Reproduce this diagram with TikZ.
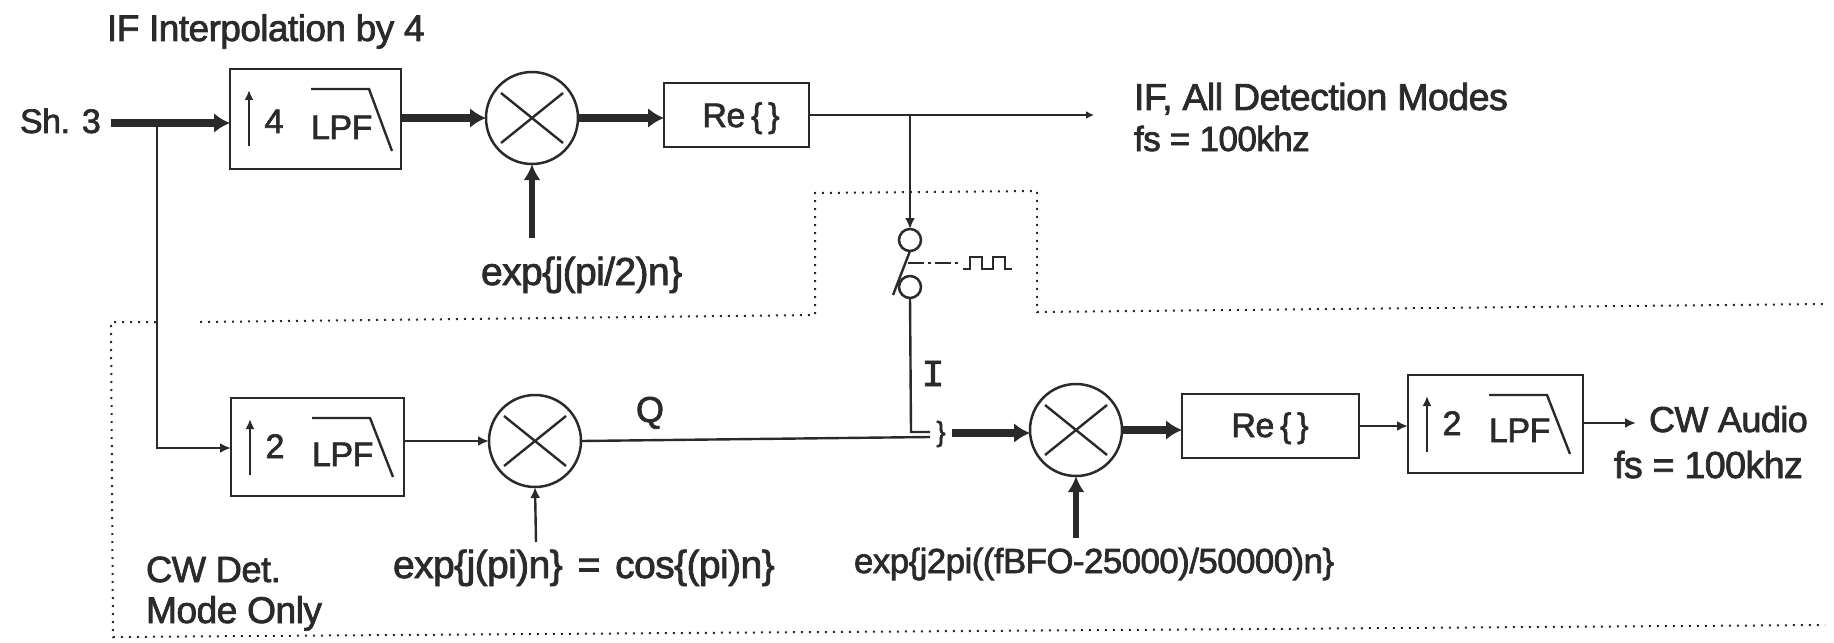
\documentclass[tikz,border=0pt]{standalone}
\usepackage{fontspec}
\usetikzlibrary{arrows.meta,calc}
\newfontfamily\dfont[LetterSpace=-1.5,FakeBold=2]{Liberation Sans}
\newfontfamily\mfont[FakeBold=2]{Liberation Mono}
\definecolor{ink}{HTML}{2A2A2A}
\tikzset{
  every node/.style={inner sep=0pt,outer sep=0pt,text=ink},
  lab/.style={font=\dfont\fontsize{#1}{20}\selectfont,anchor=base west},
  lab/.default=17,
  blockbox/.style={draw=ink,line width=1.25pt,rectangle,anchor=north west},
  mixer/.style={draw=ink,line width=1.25pt,circle,minimum size=46pt},
  swc/.style={draw=ink,line width=1.25pt,circle,minimum size=11pt},
  thin arrow/.style={draw=ink,line width=1.2pt,-{Latex[length=5.5pt,width=5pt]}},
  thick arrow/.style={draw=ink,line width=3.6pt,-{Latex[length=8pt,width=10pt]}},
  mid arrow/.style={draw=ink,line width=2.6pt,-{Latex[length=8pt,width=8.5pt]}},
  wire/.style={draw=ink,line width=1.2pt},
  boundary/.style={draw=ink,line width=1pt,dash pattern=on 1pt off 3pt},
}
\newcommand\lpfinner[5]{% box, digit, digit baseline, lpf baseline, curve end y (offsets from box corner)
  \begin{scope}[shift={(#1.north west)}]
    \draw[draw=ink,line width=1.2pt,-{Latex[length=5pt,width=4.5pt]}] (19,77) -- (19,21);
    \node[lab,anchor=base] (#1-digit) at (44,#3) {#2};
    \node[lab] (#1-lpf) at (81,#4) {LPF};
    \draw[wire] (81,20) -- (139,20) -- (162,#5);
  \end{scope}
}
\newcommand\mixcross[1]{%
  \begin{scope}[shift={(#1.center)}]
    \draw[wire] (-31,-25) -- (31,25) (-31,25) -- (31,-25);
  \end{scope}
}
\begin{document}
\begin{tikzpicture}[x=.5pt,y=-.5pt]
\useasboundingbox (0,0) rectangle (1834,642);

% blocks
\node[blockbox,minimum width=85.5pt,minimum height=50pt] (box1) at (230,69) {};
\node[mixer] (c1) at (532,118) {};
\node[blockbox,minimum width=72.5pt,minimum height=32pt] (re1) at (664,83) {};
\node[lab,anchor=base] (re1t) at (741,127) {\spaceskip=.17em Re \{ \}};

\node[blockbox,minimum width=86.5pt,minimum height=49pt] (box2) at (231,398) {};
\node[mixer] (c2) at (535,441) {};
\node[mixer] (c3) at (1076,430) {};
\node[blockbox,minimum width=88.5pt,minimum height=32pt] (re2) at (1182,394) {};
\node[lab,anchor=base] (re2t) at (1270,437) {\spaceskip=.17em Re \{ \}};
\node[blockbox,minimum width=87.5pt,minimum height=49pt] (box3) at (1408,375) {};

\lpfinner{box1}{4}{64}{70}{82}
\lpfinner{box2}{2}{60}{68}{79}
\lpfinner{box3}{2}{60}{67}{79}
\mixcross{c1}\mixcross{c2}\mixcross{c3}

% labels
\node[lab=18.5] (title) at (107,41) {IF Interpolation by 4};
\node[lab=17] (sh) at (20,133) {Sh. 3};
\node[lab=18.8] (ifl) at (1134,110) {IF, All Detection Modes};
\node[lab=17.5] (ifs) at (1134,151) {fs = 100khz};
\node[lab=19.5] (e1) at (481,285) {exp\{j(pi/2)n\}};
\node[lab=19.5] (e2) at (393,578) {\spaceskip=.38em exp\{j(pi)n\} = cos\{(pi)n\}};
\node[lab=17.4] (e3) at (854,573) {exp\{j2pi((fBFO-25000)/50000)n\}};
\node[lab=18.2] (cw1) at (146,582) {CW Det.};
\node[lab=18.6] (cw2) at (146,623) {Mode Only};
\node[lab=18] (q) at (636,422) {Q};
\node[font=\mfont\fontsize{19}{20}\selectfont,anchor=base] (i) at (933,386) {I};
\node[lab=18] (cwa) at (1649,432) {CW Audio};
\node[lab=18.8] (cwf) at (1614,478) {fs = 100khz};
\node[font=\dfont\fontsize{14}{15}\selectfont] (br) at (941,434) {\}};

% named free ends
\coordinate (shs) at (111,123);
\coordinate (tap) at (157,123);
\coordinate (ifend) at (1094,115);
\coordinate (swtap) at (910,115);
\coordinate (e1s) at (532,238);
\coordinate (e2s) at (536,542);
\coordinate (e3s) at (1076,538);
\coordinate (cwend) at (1636,423);
\coordinate (qend) at (930,437);
\coordinate (ibend) at (930,432);
\coordinate (icorner) at (911,432);
\coordinate (mixin) at (952,433);

% top path
\draw[thick arrow] (shs) -- (box1.west |- shs);
\draw[thick arrow] (box1.east |- c1) -- (c1.west);
\draw[thick arrow] (c1.east) -- (re1.west |- c1);
\draw[mid arrow] (e1s) -- (c1.south);
\draw[thin arrow,-{Latex[length=4pt,width=4pt]}] (re1.east) -- (ifend);

% switch
\node[swc] (sw1) at (910,240) {};
\node[swc] (sw2) at (910,287) {};
\coordinate (bl1) at (893,295);
\coordinate (bl2) at (910,251);
\coordinate (dd1) at (908,263);
\coordinate (dd2) at (960,263);
\draw[thin arrow] (swtap) -- (sw1.north);
\draw[wire] (bl1) -- (bl2);
\draw[draw=ink,line width=.9pt,dash pattern=on 8pt off 2pt on 1.5pt off 2pt] (dd1) -- (dd2);
\draw[draw=ink,line width=1pt] (963,269) -- (970,269) -- (970,257) -- (982,257) -- (982,269) -- (993,269) -- (993,257) -- (1005,257) -- (1005,269) -- (1012,269);

% lower path
\draw[thin arrow] (tap) -- (tap |- 0,448) -- (box2.west |- 0,448);
\draw[thin arrow] (box2.east |- c2) -- (c2.west);
\draw[thin arrow] (e2s) -- (c2.south);
\draw[wire] (c2.east) -- (qend);
\draw[wire] (sw2.south) -- (icorner) -- (ibend);
\draw[thick arrow] (mixin) -- (c3.west |- mixin);
\draw[thick arrow] (c3.east) -- (re2.west |- c3);
\draw[mid arrow] (e3s) -- (c3.south);
\draw[thin arrow] (re2.east) -- (box3.west |- re2);
\draw[thin arrow] (box3.east |- cwend) -- (cwend);

% mode boundary
\draw[boundary] (156,322) -- (111,322) -- (113,637) -- (1825,625);
\draw[boundary] (200,322) -- (815,315) -- (815,193) -- (1037,191) -- (1037,312) -- (1825,304);
\end{tikzpicture}
\end{document}
